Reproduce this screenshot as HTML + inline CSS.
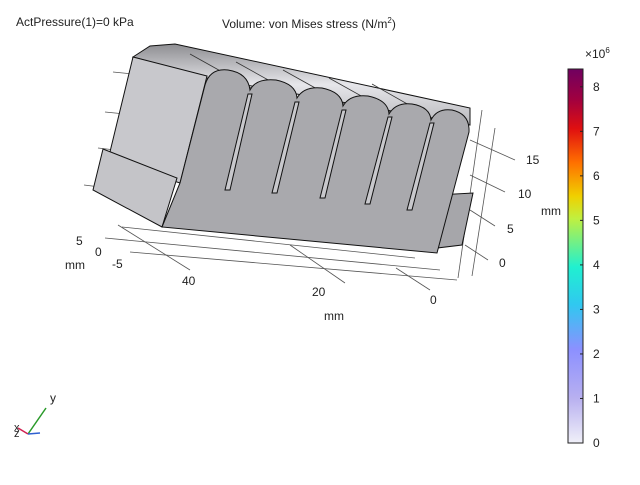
<!DOCTYPE html>
<html><head><meta charset="utf-8"><style>
body{margin:0;background:#fff;}
svg{font-family:"Liberation Sans","DejaVu Sans",sans-serif;}
</style></head><body>
<svg width="640" height="480" viewBox="0 0 640 480">
<defs>
<linearGradient id="topg" x1="0" y1="0" x2="0" y2="1"><stop offset="0" stop-color="#8e8e92"/><stop offset="0.5" stop-color="#e6e6ea"/><stop offset="1" stop-color="#b8b8bc"/></linearGradient>
<linearGradient id="cb" x1="0" y1="1" x2="0" y2="0">
<stop offset="0" stop-color="#f0f0f8"/><stop offset="0.12" stop-color="#b8b0f0"/><stop offset="0.25" stop-color="#8c90ff"/><stop offset="0.37" stop-color="#30c8f0"/><stop offset="0.47" stop-color="#20f0d0"/><stop offset="0.6" stop-color="#c0f040"/><stop offset="0.66" stop-color="#f0d000"/><stop offset="0.75" stop-color="#ff7000"/><stop offset="0.84" stop-color="#e01010"/><stop offset="0.92" stop-color="#a00040"/><stop offset="1" stop-color="#700060"/></linearGradient>
</defs>
<text x="16" y="26" font-size="12" fill="#222">ActPressure(1)=0 kPa</text>
<text x="222" y="28" font-size="12" fill="#222">Volume: von Mises stress (N/m<tspan font-size="8" dy="-5">2</tspan><tspan dy="5">)</tspan></text>
<g stroke="#555" stroke-width="0.8" fill="none">
<line x1="113" y1="72" x2="133" y2="74"/><line x1="105" y1="112" x2="125" y2="114"/><line x1="98" y1="148" x2="115" y2="150"/><line x1="84" y1="185" x2="100" y2="187"/>
<line x1="122" y1="227" x2="415" y2="258"/><line x1="105" y1="238" x2="440" y2="270"/><line x1="130" y1="252" x2="457" y2="280"/>
<line x1="118" y1="225" x2="190" y2="270"/><line x1="290" y1="245" x2="345" y2="283"/><line x1="396" y1="268" x2="430" y2="290"/>
<line x1="482" y1="110" x2="458" y2="278"/><line x1="495" y1="128" x2="472" y2="276"/><line x1="470" y1="140" x2="515" y2="160"/><line x1="470" y1="175" x2="505" y2="192"/><line x1="470" y1="210" x2="495" y2="226"/><line x1="465" y1="245" x2="488" y2="260"/>
</g>
<g stroke="#111" stroke-width="1">
<polygon points="133,57 150,46 175,44 470,108 470,125 207,78" fill="url(#topg)"/>
<g stroke="#333" stroke-width="0.8">
<line x1="190" y1="54" x2="251" y2="88"/><line x1="236" y1="62" x2="297" y2="96"/><line x1="283" y1="70" x2="344" y2="104"/><line x1="329" y1="78" x2="390" y2="112"/><line x1="372" y1="84" x2="432" y2="118"/>
</g>
<polygon points="133,57 207,76 180,183 108,160" fill="#c8c8cc"/>
<polygon points="103,149 177,178 162,227 93,190" fill="#c4c4c8"/>
<polygon points="437,195 473,193 462,245 437,248" fill="#a6a6aa"/>
<path d="M180,183 L205,85 Q210,68 228,70 Q248,73 250,90 Q256,78 276,80 Q296,84 297,98 Q304,86 322,88 Q342,92 343,106 Q350,94 368,96 Q388,100 389,114 Q396,102 412,104 Q430,107 431,120 Q437,108 452,110 Q470,114 469,132 L437,253 L162,227 Z" fill="#a9a9ad"/>
<g fill="#c8c8cc">
<polygon points="248,94 252,94 230,190 225,190"/><polygon points="295,102 299,102 277,193 272,193"/><polygon points="342,110 346,110 325,198 320,198"/><polygon points="388,117 392,117 370,204 365,204"/><polygon points="430,123 434,123 412,210 407,210"/>
</g>
</g>
<g font-size="12" fill="#222">
<text x="76" y="245">5</text><text x="95" y="256">0</text><text x="112" y="268">-5</text><text x="65" y="269">mm</text>
<text x="182" y="285">40</text><text x="312" y="296">20</text><text x="430" y="304">0</text><text x="324" y="320">mm</text>
<text x="526" y="164">15</text><text x="518" y="198">10</text><text x="541" y="215">mm</text><text x="507" y="233">5</text><text x="499" y="267">0</text>
</g>
<g>
<rect x="568" y="69" width="15" height="374" fill="url(#cb)" stroke="#222" stroke-width="1"/>
<text x="585" y="58" font-size="12" fill="#222">×10<tspan font-size="8" dy="-5">6</tspan></text>
<g id="cbticks"></g>
</g>
<g>
<line x1="28" y1="434" x2="46" y2="408" stroke="#2a9a2a" stroke-width="1.5"/>
<line x1="28" y1="434" x2="18" y2="428" stroke="#d02050" stroke-width="1.5"/>
<line x1="28" y1="434" x2="40" y2="433" stroke="#3060d0" stroke-width="1.5"/>
<text x="50" y="402" font-size="12" fill="#222">y</text>
<text x="14" y="431" font-size="11" fill="#222">x</text><text x="14" y="437" font-size="11" fill="#222">z</text>
</g>
</svg>
<script>
const cbValues=[0,1,2,3,4,5,6,7,8];
const cbMin=0,cbMax=8.4;
const g=document.getElementById('cbticks');
function cy(v){return 443-(v-cbMin)/(cbMax-cbMin)*374;}
cbValues.forEach(v=>{
 const y=cy(v);
 const l=document.createElementNS('http://www.w3.org/2000/svg','line');
 
 
 l.setAttribute('x1',580);l.setAttribute('x2',583);l.setAttribute('y1',y);l.setAttribute('y2',y);l.setAttribute('stroke','#222');
 g.appendChild(l);
 const t=document.createElementNS('http://www.w3.org/2000/svg','text');
 
 
 t.setAttribute('x',593);t.setAttribute('y',y+4);t.setAttribute('font-size','12');t.setAttribute('fill','#222');
 t.textContent=v;g.appendChild(t);
});
</script>
</body></html>
